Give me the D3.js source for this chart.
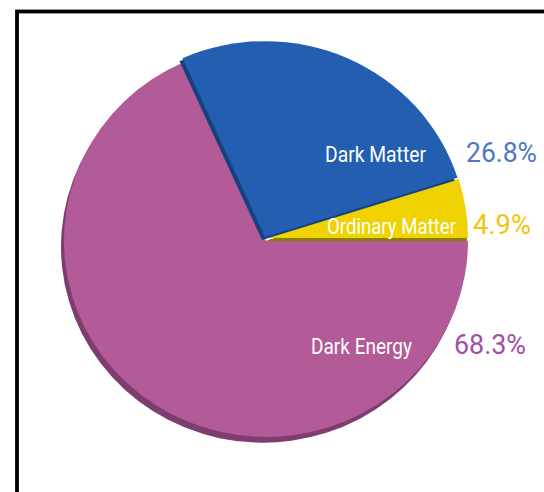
<!DOCTYPE html>
<html>
<head>
<meta charset="utf-8">
<script src="https://cdn.jsdelivr.net/npm/d3@7/dist/d3.min.js"></script>
<style>
  html, body { margin: 0; padding: 0; background: #fff; }
  svg { display: block; }
</style>
</head>
<body>
<svg id="chart" width="544" height="492"></svg>
<script>
// Composition of the universe (share of total energy density, %)
const categories = ["Dark Energy", "Dark Matter", "Ordinary Matter"];
const shares = [68.3, 26.8, 4.9];
const valueLabels = ["68.3%", "26.8%", "4.9%"];

// Styling per slice
const faceColors   = ["#b35a98", "#235eb0", "#efd200"];
const shadowColors = ["#7e3d6f", "#15427c", "#8c7e00"];
const valueColors  = ["#a04ea9", "#4e76c6", "#f4c40c"];

const W = 544, H = 492;
const cx = 266, cy = 241, R = 202, squash = 0.97;

const svg = d3.select("#chart");

// Page frame (runs off the right and bottom edges)
svg.append("rect")
  .attr("x", 17).attr("y", 11.5)
  .attr("width", 600).attr("height", 600)
  .attr("fill", "#fff")
  .attr("stroke", "#000")
  .attr("stroke-width", 3.8);

const pie = d3.pie()
  .sort(null)
  .startAngle(Math.PI / 2)
  .endAngle(Math.PI / 2 + 2 * Math.PI);

const arc = d3.arc().innerRadius(0).outerRadius(R);
const arcs = pie(shares);

// Small displacement of the two matter slices and the drop shadow of each
const sliceShift  = [[0, 0], [-1, -4], [0, -3]];
const shadowShift = [[-3, 6], [-3, 3], [-1, 3]];

const pieG = svg.append("g")
  .attr("transform", `translate(${cx},${cy}) scale(1,${squash})`);

// energy first, then ordinary matter, then dark matter on top
[0, 2, 1].forEach(i => {
  const g = pieG.append("g")
    .attr("transform", `translate(${sliceShift[i][0]},${sliceShift[i][1]})`);
  g.append("path")
    .attr("d", arc(arcs[i]))
    .attr("transform", `translate(${shadowShift[i][0]},${shadowShift[i][1]})`)
    .attr("fill", shadowColors[i]);
  g.append("path")
    .attr("d", arc(arcs[i]))
    .attr("fill", faceColors[i]);
});

// Label placement: [nameX, nameY, nameWidth, valueX, valueY, valueWidth]
const labelLayout = [
  [311, 353.5, 101, 454, 353.5, 72],
  [325, 162, 101, 466, 162, 71],
  [327, 233.5, 129, 473, 234, 58]
];

const fontStack = "'Liberation Sans Narrow', Roboto, 'DejaVu Sans', sans-serif";

categories.forEach((name, i) => {
  const L = labelLayout[i];
  svg.append("text")
    .attr("x", L[0]).attr("y", L[1])
    .attr("font-family", fontStack)
    .attr("font-size", 22)
    .attr("fill", "#ffffff")
    .attr("textLength", L[2])
    .attr("lengthAdjust", "spacingAndGlyphs")
    .text(name);
  svg.append("text")
    .attr("x", L[3]).attr("y", L[4])
    .attr("font-family", fontStack)
    .attr("font-size", 28)
    .attr("fill", valueColors[i])
    .attr("textLength", L[5])
    .attr("lengthAdjust", "spacingAndGlyphs")
    .text(valueLabels[i]);
});
</script>
</body>
</html>
